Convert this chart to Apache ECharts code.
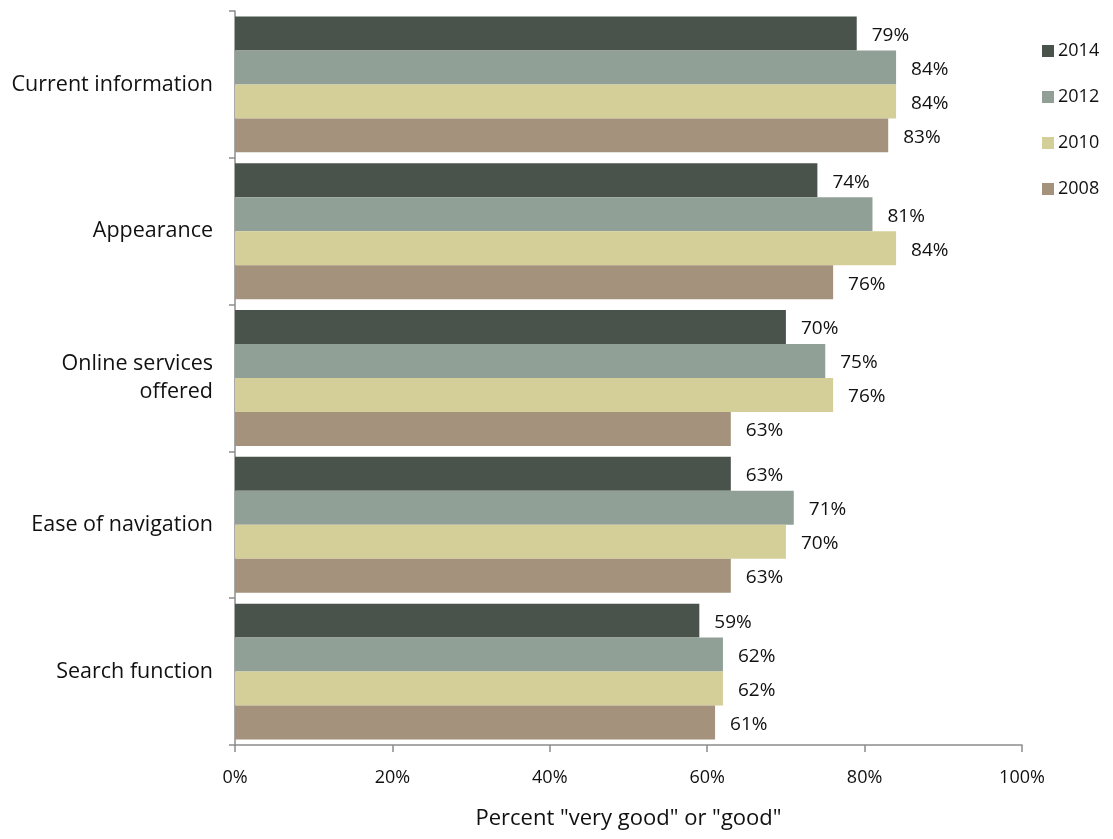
<!DOCTYPE html>
<html>
<head>
<meta charset="utf-8">
<script src="https://cdn.jsdelivr.net/npm/echarts@6/dist/echarts.min.js"></script>
<style>
  html, body { margin: 0; padding: 0; background: #fff; }
  #chart { width: 1113px; height: 839px; }
</style>
</head>
<body>
<div id="chart"></div>
<script>
// Website ratings by aspect, share rating "very good" or "good"
const categories = ['Current information', 'Appearance', 'Online services\noffered', 'Ease of navigation', 'Search function'];
const years = ['2014', '2012', '2010', '2008'];
const values2014 = [79, 74, 70, 63, 59];
const values2012 = [84, 81, 75, 71, 62];
const values2010 = [84, 84, 76, 70, 62];
const values2008 = [83, 76, 63, 63, 61];
const xTicks = [0, 20, 40, 60, 80, 100];
const colors = ['#4a524c', '#91a096', '#d4cf98', '#a4927c'];

const FONT = 'Open Sans';
const seriesValues = [values2014, values2012, values2010, values2008];

const chart = echarts.init(document.getElementById('chart'), null, { renderer: 'canvas' });

chart.setOption({
  animation: false,
  textStyle: { fontFamily: FONT, color: '#111' },
  color: colors,
  grid: { left: 235, right: 91, top: 11, bottom: 94, containLabel: false, outerBoundsMode: 'none' },
  legend: {
    orient: 'vertical',
    left: 1037,
    top: 37,
    itemWidth: 12,
    itemHeight: 12,
    itemGap: 28,
    icon: 'rect',
    textStyle: { fontFamily: FONT, fontSize: 18, color: '#111', padding: [0, 0, 0, -1] },
    data: years
  },
  xAxis: {
    type: 'value',
    min: xTicks[0],
    max: xTicks[xTicks.length - 1],
    interval: 20,
    name: 'Percent "very good" or "good"',
    nameLocation: 'middle',
    nameGap: 63,
    nameTextStyle: { fontFamily: FONT, fontSize: 22, color: '#111' },
    axisLine: { show: true, lineStyle: { color: '#8c8c8c', width: 1.5 } },
    axisTick: { show: true, length: 7, lineStyle: { color: '#8c8c8c', width: 1.5 } },
    splitLine: { show: false },
    axisLabel: { formatter: '{value}%', fontFamily: FONT, fontSize: 18, color: '#111', margin: 24 }
  },
  yAxis: {
    type: 'category',
    inverse: true,
    data: categories,
    axisLine: { show: true, lineStyle: { color: '#8c8c8c', width: 1.5 } },
    axisTick: { show: true, length: 6, lineStyle: { color: '#8c8c8c', width: 1.5 } },
    axisLabel: { fontFamily: FONT, fontSize: 21.5, color: '#111', margin: 22, lineHeight: 28, align: 'right' }
  },
  series: years.map((y, i) => ({
    name: y,
    type: 'bar',
    data: seriesValues[i],
    barGap: '0%',
    barCategoryGap: '7.4%',
    itemStyle: { color: colors[i] },
    label: {
      show: true,
      position: 'right',
      distance: 15,
      formatter: '{c}%',
      fontFamily: FONT,
      fontSize: 19,
      color: '#111',
      offset: [0, 2]
    }
  }))
});
</script>
</body>
</html>
